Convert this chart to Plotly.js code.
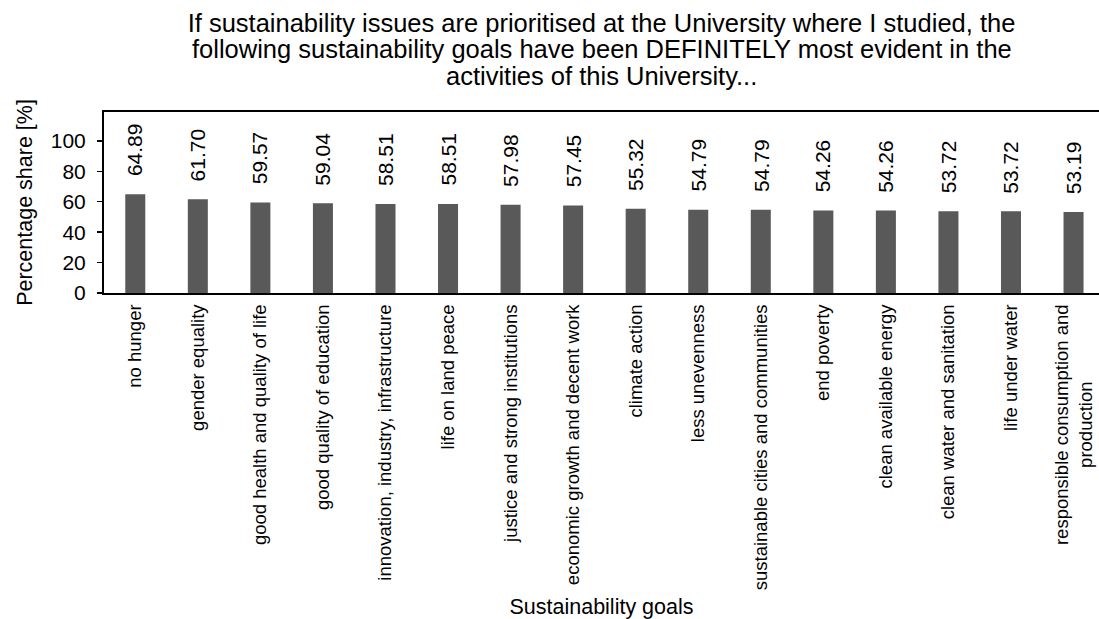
<!DOCTYPE html>
<html>
<head>
<meta charset="utf-8">
<script src="https://cdn.plot.ly/plotly-3.0.1.min.js"></script>
<style>html,body{margin:0;padding:0;background:#fff;}#chart{width:1099px;height:619px;}</style>
</head>
<body>
<div id="chart"></div>
<script>
const categories = [
  "no hunger",
  "gender equality",
  "good health and quality of life",
  "good quality of education",
  "innovation, industry, infrastructure",
  "life on land peace",
  "justice and strong institutions",
  "economic growth and decent work",
  "climate action",
  "less unevenness",
  "sustainable cities and communities",
  "end poverty",
  "clean available energy",
  "clean water and sanitation",
  "life under water",
  "responsible consumption and<br>production"
];
const values = [64.89, 61.70, 59.57, 59.04, 58.51, 58.51, 57.98, 57.45, 55.32, 54.79, 54.79, 54.26, 54.26, 53.72, 53.72, 53.19];
const titleLines = [
  "If sustainability issues are prioritised at the University where I studied, the",
  "following sustainability goals have been DEFINITELY most evident in the",
  "activities of this University..."
];
const yTickVals = [0, 20, 40, 60, 80, 100];

const FONT = "Arial, 'Liberation Sans', sans-serif";

// centre the short second line of a wrapped rotated label (lines are end-anchored)
const tickText = categories.map(c => {
  const parts = c.split("<br>");
  if (parts.length < 2) return c;
  const pad = "\u00A0".repeat(15);
  return parts[0] + "<br>" + parts[1] + pad;
});

const trace = {
  type: "bar",
  x: categories,
  y: values,
  marker: {color: "#595959"},
  hoverinfo: "x+y"
};

const annotations = [];
values.forEach((v, i) => {
  annotations.push({
    x: categories[i], y: v, xref: "x", yref: "y",
    text: v.toFixed(2), showarrow: false, textangle: -90,
    xanchor: "center", yanchor: "bottom", yshift: 16,
    font: {family: FONT, size: 21, color: "#000"}
  });
});
const titleY = [1.348, 1.199];
[1, 2].forEach((k, j) => {
  annotations.push({
    x: 0.5, xref: "paper", y: titleY[j], yref: "paper",
    text: titleLines[k], showarrow: false,
    xanchor: "center", yanchor: "middle",
    font: {family: FONT, size: 25.5, color: "#000"}
  });
});

const layout = {
  width: 1099, height: 619,
  margin: {l: 104, r: 0, t: 112, b: 326},
  paper_bgcolor: "#fff", plot_bgcolor: "#fff",
  showlegend: false,
  bargap: 0.68,
  font: {family: FONT, color: "#000"},
  title: {
    text: titleLines[0],
    x: 0.5, xref: "paper", xanchor: "center",
    y: 1 - 23/619, yref: "container", yanchor: "middle",
    font: {family: FONT, size: 25.5, color: "#000"}
  },
  xaxis: {
    type: "category",
    range: [-0.5, 15.407],
    tickvals: categories,
    ticktext: tickText,
    showline: true, linecolor: "#000", linewidth: 2, mirror: true,
    showgrid: false, zeroline: false,
    ticks: "", tickangle: -90,
    ticklabelstandoff: 2,
    tickfont: {family: FONT, size: 18.5, color: "#000"},
    title: {text: "Sustainability goals", font: {family: FONT, size: 21.5, color: "#000"}, standoff: 14},
    fixedrange: true
  },
  yaxis: {
    range: [0, 119],
    tickvals: yTickVals,
    showline: true, linecolor: "#000", linewidth: 2, mirror: false,
    showgrid: false, zeroline: false,
    ticks: "outside", ticklen: 5, tickwidth: 1.5, tickcolor: "#000",
    ticklabelstandoff: 7,
    tickfont: {family: FONT, size: 21, color: "#000"},
    title: {text: "Percentage share [%]", font: {family: FONT, size: 21.5, color: "#000"}, standoff: 12},
    fixedrange: true
  },
  annotations: annotations
};

Plotly.newPlot("chart", [trace], layout, {displayModeBar: false, staticPlot: true});
</script>
</body>
</html>
